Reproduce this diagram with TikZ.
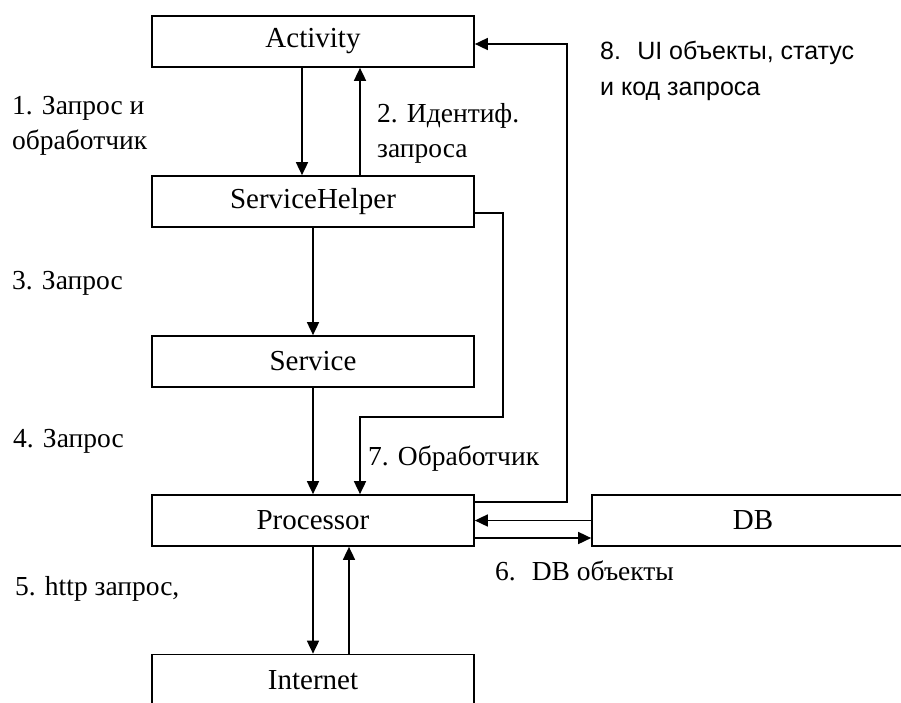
\documentclass[tikz,border=0pt]{standalone}
\usepackage{fontspec}
\setmainfont{Liberation Serif}
\newfontfamily\lsans{Liberation Sans}
\usetikzlibrary{arrows.meta,calc}
\tikzset{
  box/.style={draw, line width=1.7pt, minimum width=322pt, minimum height=51pt, inner sep=0pt,
    font=\fontsize{29}{32}\selectfont},
  arr/.style={line width=1.7pt, -{Triangle[length=13pt,width=12pt]}},
  lbl/.style={inner sep=0pt, anchor=west, align=left, font=\fontsize{27.5}{35}\selectfont},
  slbl/.style={inner sep=0pt, anchor=west, align=left, font=\lsans\fontsize{25}{36}\selectfont},
}
\begin{document}
\begin{tikzpicture}[x=1pt,y=-1pt]
\useasboundingbox (0,0) rectangle (901,702);
\clip (0,0) rectangle (901,702);
\fill[white] (0,0) rectangle (901,702);
% boxes
\node[box] (act) at (313,41.5) {Activity};
\node[box] (sh)  at (313,201.5) {ServiceHelper};
\node[box] (sv)  at (313,361.5) {Service};
\node[box] (pr)  at (313,520.5) {Processor};
\node[box] (db)  at (753,520.5) {DB};
\node[box] (in)  at (313,680) {Internet};
% helper coordinates
\coordinate (x302) at (302,0);
\coordinate (x360) at (360,0);
\coordinate (x349) at (349,0);
\coordinate (y213) at (0,213);
\coordinate (y502) at (0,502);
\coordinate (y538) at (0,538);
\coordinate (y44)  at (0,44);
\coordinate (r1) at (503,213);
\coordinate (r2) at (503,417);
\coordinate (r3) at (360,417);
\coordinate (q1) at (567,502);
\coordinate (q2) at (567,44);
% connectors
\draw[arr] (act.south -| x302) -- (sh.north -| x302);
\draw[arr] (sh.north -| x360) -- (act.south -| x360);
\draw[arr] (sh.south) -- (sv.north);
\draw[arr] (sv.south) -- (pr.north);
\draw[arr] (pr.south) -- (in.north);
\draw[arr] (in.north -| x349) -- (pr.south -| x349);
\draw[arr] (db.west) -- (pr.east);
\draw[arr] (pr.east |- y538) -- (db.west |- y538);
\draw[arr] (sh.east |- y213) -- (r1) -- (r2) -- (r3) -- (pr.north -| x360);
\draw[arr] (pr.east |- y502) -- (q1) -- (q2) -- (act.east |- y44);
% labels
\node[lbl] (l1) at (12,126) {1. Запрос и\\обработчик};
\node[lbl] (l2) at (377,133.5) {2. Идентиф.\\запроса};
\node[lbl] (l3) at (12,283) {3. Запрос};
\node[lbl] (l4) at (13,441) {4. Запрос};
\node[lbl] (l5) at (15,589) {5. http запрос,};
\node[lbl] (l6) at (495,571) {6.~ DB объекты};
\node[lbl] (l7) at (368,459) {7. Обработчик};
\node[slbl] (l8) at (600,71) {8.~ UI объекты, статус\\и код запроса};
\end{tikzpicture}
\end{document}
